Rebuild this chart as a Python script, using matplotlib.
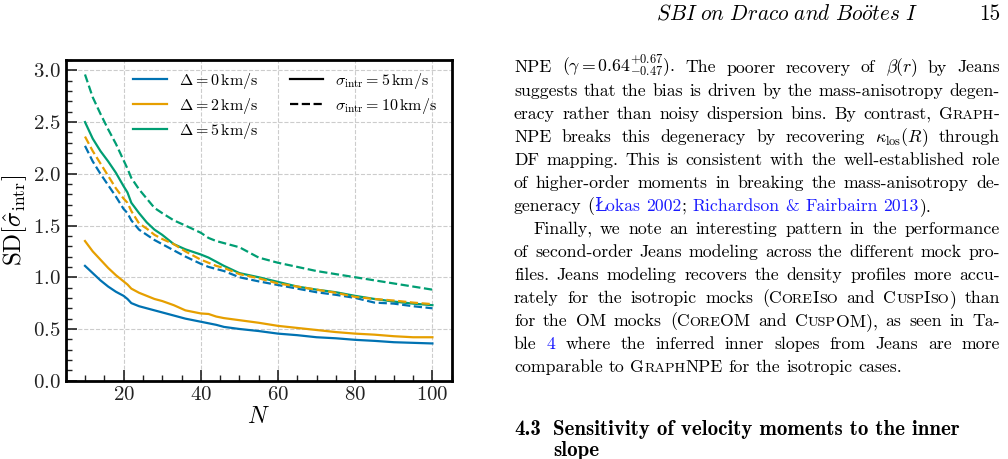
import matplotlib
matplotlib.use('Agg')
import matplotlib.pyplot as plt
from matplotlib.lines import Line2D
from matplotlib.ticker import MultipleLocator

plt.rcParams.update({
    'font.family': 'serif',
    'font.serif': ['cmr10'],
    'mathtext.fontset': 'cm',
    'axes.formatter.use_mathtext': True,
    'axes.unicode_minus': False,
})

# ---------------- data ----------------
N = [10, 12, 14, 16, 18, 20, 21, 22, 24, 26, 28, 30, 33, 36, 40, 42, 44, 46,
     50, 55, 60, 65, 70, 75, 80, 85, 90, 95, 100]

d0_s5 = [1.11, 1.04, 0.97, 0.91, 0.86, 0.82, 0.79, 0.75, 0.72, 0.70, 0.68, 0.66,
         0.63, 0.60, 0.57, 0.555, 0.54, 0.52, 0.50, 0.48, 0.455, 0.44, 0.42, 0.41,
         0.395, 0.385, 0.372, 0.366, 0.36]
d2_s5 = [1.35, 1.25, 1.17, 1.09, 1.02, 0.96, 0.93, 0.89, 0.85, 0.82, 0.79, 0.77,
         0.73, 0.68, 0.65, 0.645, 0.62, 0.605, 0.585, 0.56, 0.53, 0.51, 0.49, 0.47,
         0.455, 0.445, 0.43, 0.42, 0.42]
d5_s5 = [2.50, 2.34, 2.22, 2.12, 2.01, 1.88, 1.82, 1.72, 1.62, 1.53, 1.46, 1.41,
         1.32, 1.27, 1.22, 1.19, 1.15, 1.11, 1.04, 1.00, 0.955, 0.91, 0.88, 0.855,
         0.82, 0.79, 0.765, 0.745, 0.73]
d0_s10 = [2.27, 2.12, 2.00, 1.89, 1.78, 1.66, 1.62, 1.55, 1.46, 1.41, 1.36, 1.32,
          1.26, 1.20, 1.13, 1.10, 1.08, 1.06, 1.00, 0.96, 0.925, 0.89, 0.855, 0.83,
          0.80, 0.755, 0.745, 0.72, 0.70]
d2_s10 = [2.36, 2.22, 2.10, 1.98, 1.86, 1.76, 1.72, 1.64, 1.52, 1.47, 1.41, 1.37,
          1.32, 1.25, 1.17, 1.14, 1.11, 1.09, 1.03, 0.99, 0.94, 0.91, 0.88, 0.85,
          0.81, 0.79, 0.775, 0.755, 0.74]
d5_s10 = [2.96, 2.74, 2.58, 2.43, 2.29, 2.13, 2.05, 1.96, 1.85, 1.76, 1.67, 1.62,
          1.55, 1.50, 1.43, 1.38, 1.35, 1.33, 1.29, 1.19, 1.14, 1.10, 1.06, 1.03,
          1.00, 0.97, 0.94, 0.91, 0.88]

delta_labels = [r'$\Delta = 0\,\mathrm{km/s}$', r'$\Delta = 2\,\mathrm{km/s}$',
                r'$\Delta = 5\,\mathrm{km/s}$']
sigma_labels = [r'$\sigma_{\mathrm{intr}} = 5\,\mathrm{km/s}$',
                r'$\sigma_{\mathrm{intr}} = 10\,\mathrm{km/s}$']
colors = ['#0072B2', '#E69F00', '#009E73']

# ---------------- figure ----------------
W, H = 1008, 459
fig = plt.figure(figsize=(W / 100, H / 100), dpi=100)
ax = fig.add_axes([65.7 / W, 1 - 380.7 / H, (451.7 - 65.7) / W, (380.7 - 60) / H])

solid = [d0_s5, d2_s5, d5_s5]
dashed = [d0_s10, d2_s10, d5_s10]
for c, ys in zip(colors, solid):
    ax.plot(N, ys, color=c, lw=1.6, ls='-')
for c, ys in zip(colors, dashed):
    ax.plot(N, ys, color=c, lw=1.6, ls='--')

ax.set_xlim(5, 105)
ax.set_ylim(0, 3.1)
ax.xaxis.set_major_locator(MultipleLocator(20))
ax.xaxis.set_minor_locator(MultipleLocator(5))
ax.yaxis.set_major_locator(MultipleLocator(0.5))
ax.yaxis.set_minor_locator(MultipleLocator(0.1))
ax.tick_params(which='both', direction='in', top=False, right=False,
               labelsize=15, colors='#222222')
ax.tick_params(which='major', length=8, width=1.2)
ax.tick_params(which='minor', length=4.5, width=1.0)
ax.grid(True, which='major', ls='--', color='#cccccc', lw=0.8)
for s in ax.spines.values():
    s.set_linewidth(2.0)
ax.set_xlabel(r'$N$', fontsize=17, labelpad=2)
ax.set_ylabel(r'$\mathrm{SD}[\hat{\sigma}_{\mathrm{intr}}]$', fontsize=18, labelpad=3)

handles = [Line2D([], [], color=c, lw=1.6) for c in colors]
handles += [Line2D([], [], color='k', lw=1.6, ls='-'),
            Line2D([], [], color='k', lw=1.6, ls='--')]
ax.legend(handles, delta_labels + sigma_labels, ncol=2, frameon=False,
          fontsize=11.5, loc='upper right', bbox_to_anchor=(1.0, 1.012),
          handlelength=2.1, columnspacing=2.0, labelspacing=0.33, handletextpad=0.75)

# ---------------- page text ----------------
FAM = ['cmr10', 'DejaVu Serif']
LINK = '#1a1aff'
renderer = fig.canvas.get_renderer()
XL, XR = 514, 1000


def parse(word):
    segs, cur, mode = [], '', 'n'
    for ch in word:
        if ch in '<[':
            if cur:
                segs.append((cur, mode))
            cur, mode = '', ('sc' if ch == '<' else 'link')
        elif ch in '>]':
            if cur:
                segs.append((cur, mode))
            cur, mode = '', 'n'
        else:
            cur += ch
    if cur:
        segs.append((cur, mode))
    return segs


def make_seg(txt, mode, fs, family):
    if mode == 'sc':
        t = fig.text(0, 0, txt.upper(), fontsize=fs * 0.8, family=family, va='baseline')
    elif mode == 'link':
        t = fig.text(0, 0, txt, fontsize=fs, family=family, color=LINK, va='baseline')
    else:
        t = fig.text(0, 0, txt, fontsize=fs, family=family, va='baseline')
    return t


def build(line, fs, family=FAM):
    words = []
    for w in line.split(' '):
        ts = [make_seg(s, m, fs, family) for s, m in parse(w)]
        widths = [t.get_window_extent(renderer).width for t in ts]
        words.append((ts, widths))
    return words


def place_line(line, x0, x1, ybase, fs, justify=True, family=FAM):
    words = build(line, fs, family)
    total = sum(sum(ws) for _, ws in words)
    if justify and len(words) > 1:
        gap = (x1 - x0 - total) / (len(words) - 1)
    else:
        gap = fs * 100 / 72 * 0.333
    x = x0
    yf = 1 - ybase / H
    for ts, ws in words:
        for t, w in zip(ts, ws):
            t.set_position((x / W, yf))
            x += w
        x += gap


lines = [
    (r"NPE ($\gamma=0.64^{+0.67}_{-0.47}$). The poorer recovery of $\beta(r)$ by Jeans", True, 0),
    ("suggests that the bias is driven by the mass-anisotropy degen-", True, 0),
    ("eracy rather than noisy dispersion bins. By contrast, G<raph>-", True, 0),
    (r"NPE breaks this degeneracy by recovering $\kappa_{\mathrm{los}}(R)$ through", True, 0),
    ("DF mapping. This is consistent with the well-established role", True, 0),
    ("of higher-order moments in breaking the mass-anisotropy de-", True, 0),
    ("generacy ([Łokas] [2002]; [Richardson] [&] [Fairbairn] [2013]).", False, 0),
    ("Finally, we note an interesting pattern in the performance", True, 19),
    ("of second-order Jeans modeling across the different mock pro-", True, 0),
    ("files. Jeans modeling recovers the density profiles more accu-", True, 0),
    ("rately for the isotropic mocks (C<ore>I<so> and C<usp>I<so>) than", True, 0),
    ("for the OM mocks (C<ore>OM and C<usp>OM), as seen in Ta-", True, 0),
    ("ble [4] where the inferred inner slopes from Jeans are more", True, 0),
    ("comparable to G<raph>NPE for the isotropic cases.", False, 0),
]

# choose body font size so the reference line widths fit the column
probe = build(lines[1][0], 10.0)
nat = sum(sum(ws) for _, ws in probe) + (len(probe) - 1) * 10 * 100 / 72 * 0.333
for ts, _ in probe:
    for t in ts:
        t.remove()
FS = 10.0 * (XR - XL) / nat * 0.995

for i, (txt, just, ind) in enumerate(lines):
    place_line(txt, XL + ind, XR, 72.5 + 23.05 * i, FS, justify=just)

# header
fig.text(918 / W, 1 - 20 / H, r'$SBI\ on\ Draco\ and\ Bo\ddot{o}tes\ I$',
         fontsize=15.3, ha='right', va='baseline')
fig.text(1000 / W, 1 - 20 / H, '15', fontsize=15.3, family=FAM, ha='right', va='baseline')

# section heading
HFS = 15.0
fig.text(514 / W, 1 - 435 / H, '4.3', fontsize=HFS, family='cmb10', va='baseline')
fig.text(553 / W, 1 - 435 / H, 'Sensitivity of velocity moments to the inner',
         fontsize=HFS, family='cmb10', va='baseline')
fig.text(553 / W, 1 - 456 / H, 'slope', fontsize=HFS, family='cmb10', va='baseline')

fig.savefig('out.png', dpi=100)
